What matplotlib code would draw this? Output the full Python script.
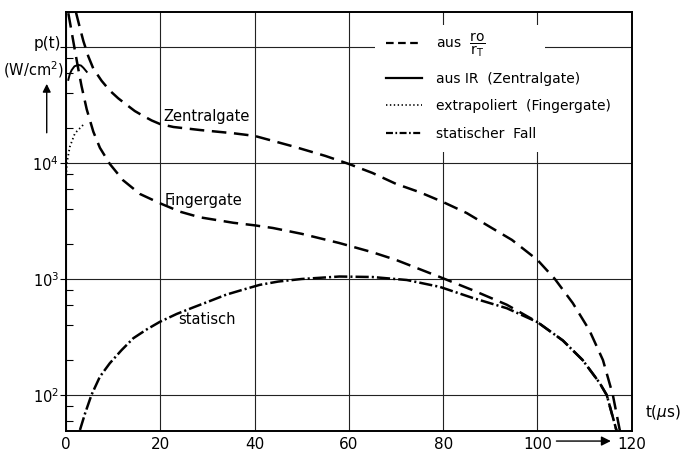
import matplotlib
matplotlib.use("Agg")
import matplotlib.pyplot as plt
from matplotlib.lines import Line2D
from matplotlib.patches import Rectangle
from matplotlib.ticker import LogLocator, NullFormatter

plt.rcParams['font.family'] = ['DejaVu Sans']
plt.rcParams['lines.scale_dashes'] = False

# Zentralgate (aus ro/rT)
zg_t = [2.1, 2.97, 3.7, 4.73, 5.8, 7.56, 9.3, 11.1, 12.9, 14.6, 16.4, 18.2, 20, 22.8, 28.5, 35.6, 40, 48.4, 55, 60, 65, 70, 75, 80, 85, 90, 94.6, 100, 103.7, 107.5, 111, 113.9, 116, 117.5]
zg_p = [2.0e5, 1.45e5, 1.12e5, 8.3e4, 6.5e4, 5.1e4, 4.2e4, 3.6e4, 3.16e4, 2.8e4, 2.54e4, 2.32e4, 2.16e4, 2.04e4, 1.92e4, 1.8e4, 1.71e4, 1.38e4, 1.15e4, 9.8e3, 8.2e3, 6.6e3, 5.6e3, 4.6e3, 3.7e3, 2.8e3, 2.17e3, 1.46e3, 1.0e3, 620, 363, 200, 100, 49]
# Fingergate (aus ro/rT)
fg_t = [0.5, 1.2, 1.9, 2.6, 3.3, 4.4, 5.8, 7.2, 9.3, 12.1, 15.7, 19.9, 24.2, 28.4, 35.5, 40, 43.9, 50, 58, 65, 70, 79.3, 86.3, 93.5, 100, 105.4, 109.6, 113.2, 114.7, 116.8]
fg_p = [1.95e5, 1.35e5, 9.3e4, 6.5e4, 4.6e4, 2.9e4, 1.86e4, 1.35e4, 9.8e3, 7.1e3, 5.4e3, 4.5e3, 3.8e3, 3.4e3, 3.05e3, 2.9e3, 2.75e3, 2.45e3, 2.04e3, 1.7e3, 1.46e3, 1.04e3, 800, 600, 425, 295, 200, 127, 100, 49]
# statischer Fall
st_t = [2.97, 4.03, 5.4, 7.2, 9.3, 11.8, 14.3, 17.1, 19.9, 23.5, 27, 30.5, 34, 37.6, 41.1, 45, 50, 58, 65, 72.3, 79.3, 86.3, 93.5, 100, 105.4, 109.6, 113.2, 114.7, 116.8]
st_p = [50, 69, 100, 144, 188, 244, 309, 367, 427, 500, 569, 645, 733, 810, 890, 950, 1.0e3, 1.05e3, 1.04e3, 980, 855, 686, 560, 425, 295, 200, 127, 100, 49]
# aus IR (Zentralgate)
ir_t = [0.5, 0.8, 1.2, 1.8, 2.6, 3.2, 3.7, 4.4]
ir_p = [5.2e4, 5.8e4, 6.3e4, 6.8e4, 7.0e4, 6.9e4, 6.6e4, 6.1e4]
# extrapoliert (Fingergate)
ex_t = [0, 0.2, 0.8, 1.9, 4.0]
ex_p = [7.1e3, 1.0e4, 1.37e4, 1.8e4, 2.2e4]

xticks = [0, 20, 40, 60, 80, 100, 120]
yticks = [1e2, 1e3, 1e4, 1e5]
ylabels = ['$10^2$', '$10^3$', '$10^4$', '']

fig = plt.figure(figsize=(6.8, 4.59), dpi=100)
ax = fig.add_axes([0.097, 0.061, 0.832, 0.913])
ax.set_yscale('log')
ax.set_xlim(0, 120)
ax.set_ylim(49, 2.0e5)

lw = 1.8
dash = (10.5, 5.5)
dashdot = (9.5, 2.2, 1.5, 2.2)
ax.plot(zg_t, zg_p, color='black', lw=lw, dashes=dash)
ax.plot(fg_t, fg_p, color='black', lw=lw, dashes=dash)
ax.plot(ir_t, ir_p, color='black', lw=1.4)
ax.plot(ex_t, ex_p, color='black', lw=1.3, dashes=(1, 2))
ax.plot(st_t, st_p, color='black', lw=lw, dashes=dashdot)

ax.set_xticks(xticks)
ax.set_yticks(yticks)
ax.set_yticklabels(ylabels)
ax.yaxis.set_minor_locator(LogLocator(base=10, subs=[2, 4, 6, 8]))
ax.yaxis.set_minor_formatter(NullFormatter())
ax.tick_params(axis='x', length=0, pad=4, labelsize=11)
ax.tick_params(axis='y', which='major', direction='out', length=4, width=0.8, pad=1, labelsize=10.5)
ax.tick_params(axis='y', which='minor', direction='in', length=5, width=0.8)
ax.grid(True, which='major', color='#222222', lw=0.8)
for s in ax.spines.values():
    s.set_linewidth(1.4)

ax.text(20.6, 2.5e4, 'Zentralgate', fontsize=10.5, va='center')
ax.text(21, 4.7e3, 'Fingergate', fontsize=10.5, va='center')
ax.text(23.7, 444, 'statisch', fontsize=10.5, va='center')

ax.text(-0.008, 0.924, 'p(t)', transform=ax.transAxes, ha='right', va='center', fontsize=11)
ax.text(-0.004, 0.862, '(W/cm$^2$)', transform=ax.transAxes, ha='right', va='center', fontsize=10.5)
ax.annotate('', xy=(-0.034, 0.835), xytext=(-0.034, 0.705), xycoords='axes fraction',
            arrowprops=dict(arrowstyle='-|>', color='black', lw=1, mutation_scale=12))
ax.text(1.023, 0.045, r't($\mu$s)', transform=ax.transAxes, ha='left', va='center', fontsize=11)
ax.annotate('', xy=(0.968, -0.024), xytext=(0.862, -0.024), xycoords='axes fraction',
            arrowprops=dict(arrowstyle='-|>', color='black', lw=1, mutation_scale=14),
            annotation_clip=False)

# white area behind the legend, cutting the grid
ax.add_patch(Rectangle((0.546, 0.666), 0.30, 0.303, transform=ax.transAxes,
                       facecolor='white', edgecolor='none', zorder=1.8))

handles = [
    Line2D([], [], color='black', lw=1.6, dashes=(5.5, 3.2)),
    Line2D([], [], color='black', lw=1.6),
    Line2D([], [], color='black', lw=1.2, dashes=(1, 1.8)),
    Line2D([], [], color='black', lw=1.6, dashes=(5, 1.8, 1.2, 1.8)),
]
labels = [r'aus  $\dfrac{\mathrm{ro}}{\mathrm{r_T}}$', 'aus IR  (Zentralgate)',
          'extrapoliert  (Fingergate)', 'statischer  Fall']
leg = ax.legend(handles, labels, loc='upper left', bbox_to_anchor=(0.561, 0.963),
                borderaxespad=0, frameon=False, fontsize=10, handlelength=2.6,
                handletextpad=1.0, labelspacing=0.95, borderpad=0.2)
leg.set_zorder(5)

fig.savefig('out.png', dpi=100)
